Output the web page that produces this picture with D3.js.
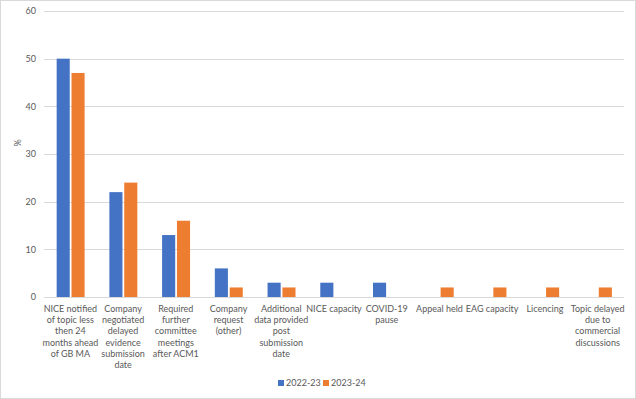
<!DOCTYPE html>
<html>
<head>
<meta charset="utf-8">
<script src="https://cdn.jsdelivr.net/npm/d3@7"></script>
<style>
  body { margin: 0; background: #fff; }
  text { font-family: Lato, "Open Sans", "Liberation Sans", sans-serif; fill: #595959; }
</style>
</head>
<body>
<div id="chart"></div>
<script>
// category labels, already split into lines as in the picture
const categories = [
  ['NICE notified', 'of topic less', 'then 24', 'months ahead', 'of GB MA'],
  ['Company', 'negotiated', 'delayed', 'evidence', 'submission', 'date'],
  ['Required', 'further', 'committee', 'meetings', 'after ACM1'],
  ['Company', 'request', '(other)'],
  ['Additional', 'data provided', 'post', 'submission', 'date'],
  ['NICE capacity'],
  ['COVID-19', 'pause'],
  ['Appeal held'],
  ['EAG capacity'],
  ['Licencing'],
  ['Topic delayed', 'due to', 'commercial', 'discussions']
];
const seriesNames = ['2022-23', '2023-24'];
const values2022 = [50, 22, 13, 6, 3, 3, 3, 0, 0, 0, 0];
const values2023 = [47, 24, 16, 2, 2, 0, 0, 2, 2, 2, 2];
const yTicks = [0, 10, 20, 30, 40, 50, 60];
const colors = ['#4472c4', '#ed7d31'];

const W = 636, H = 399;
const margin = { top: 11, right: 12, bottom: 102, left: 44 };
const innerW = W - margin.left - margin.right;
const innerH = H - margin.top - margin.bottom;

const svg = d3.select('#chart').append('svg')
  .attr('width', W)
  .attr('height', H);

// chart border
svg.append('rect')
  .attr('x', 0.5).attr('y', 0.5)
  .attr('width', W - 1).attr('height', H - 1)
  .attr('fill', '#fff')
  .attr('stroke', '#d9d9d9');

const g = svg.append('g')
  .attr('transform', 'translate(' + margin.left + ',' + margin.top + ')');

const idx = d3.range(categories.length);
const x0 = d3.scaleBand().domain(idx).range([0, innerW]).padding(0);
const bw = x0.bandwidth();
const x1 = d3.scaleBand().domain(seriesNames)
  .range([bw * 0.24, bw * 0.77]).paddingInner(0.12);
const y = d3.scaleLinear().domain([0, 60]).range([innerH, 0]);

// gridlines
g.append('g')
  .selectAll('line')
  .data(yTicks)
  .enter()
  .append('line')
  .attr('x1', 0).attr('x2', innerW)
  .attr('y1', d => Math.round(y(d)) + 0.5)
  .attr('y2', d => Math.round(y(d)) + 0.5)
  .attr('stroke', '#d9d9d9')
  .attr('stroke-width', 1);

// Y axis labels
const yAxis = g.append('g')
  .call(d3.axisLeft(y).tickValues(yTicks).tickSize(0).tickPadding(8));
yAxis.select('.domain').remove();
yAxis.selectAll('text')
  .style('font-size', '9px')
  .style('font-family', 'Lato, sans-serif')
  .attr('fill', '#595959');

// axis title
g.append('text')
  .attr('transform', 'rotate(-90)')
  .attr('x', -innerH / 2 + 11)
  .attr('y', -23)
  .attr('text-anchor', 'middle')
  .style('font-size', '9px')
  .text('%');

// bars
const series = [values2022, values2023];
seriesNames.forEach((name, si) => {
  g.selectAll('.bar-' + si)
    .data(series[si])
    .enter()
    .append('rect')
    .attr('class', 'bar-' + si)
    .attr('x', (d, i) => x0(i) + x1(name))
    .attr('y', d => y(d))
    .attr('width', x1.bandwidth())
    .attr('height', d => innerH - y(d))
    .attr('fill', colors[si]);
});

// category labels
const labels = g.append('g')
  .attr('transform', 'translate(0,' + innerH + ')');
categories.forEach((lines, i) => {
  const t = labels.append('text')
    .attr('x', x0(i) + bw / 2)
    .attr('y', 15)
    .attr('text-anchor', 'middle')
    .style('font-size', '9px');
  lines.forEach((l, j) => {
    t.append('tspan')
      .attr('x', x0(i) + bw / 2)
      .attr('dy', j === 0 ? 0 : 11.2)
      .text(l);
  });
});

// legend
const legend = svg.append('g')
  .attr('transform', 'translate(278,383)');
seriesNames.forEach((name, si) => {
  const item = legend.append('g')
    .attr('transform', 'translate(' + (si * 45) + ',0)');
  item.append('rect')
    .attr('x', 0).attr('y', -3)
    .attr('width', 6).attr('height', 6)
    .attr('fill', colors[si]);
  item.append('text')
    .attr('x', 8)
    .attr('y', 3)
    .style('font-size', '9px')
    .text(name);
});
</script>
</body>
</html>
